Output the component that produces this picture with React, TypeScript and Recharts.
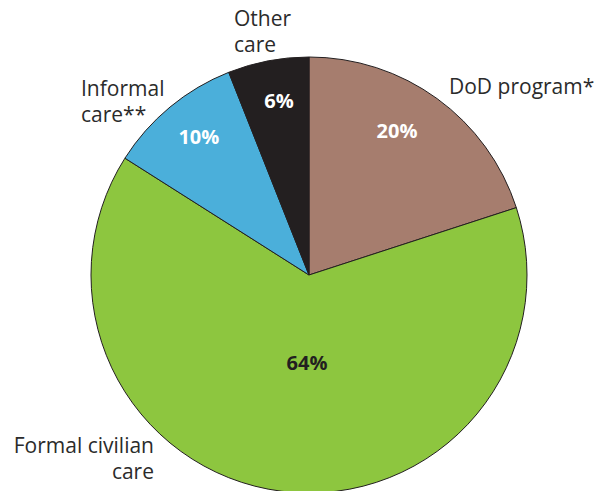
import { PieChart, Pie, Cell } from "recharts";

const categories = ["DoD program*", "Formal civilian care", "Informal care**", "Other care"];
const shares = [20, 64, 10, 6];
const pctLabels = ["20%", "64%", "10%", "6%"];
const nameLines = [["DoD program*"], ["Formal civilian", "care"], ["Informal", "care**"], ["Other", "care"]];

const colors = ["#A67D6E", "#8DC63F", "#4BAFDA", "#231F20"];
const pctColors = ["#ffffff", "#231F20", "#ffffff", "#ffffff"];

// label placement: polar for percentages, offsets for the outside names
const pctPos = [
  { ang: 58.6, frac: 0.775 },
  { ang: 268.7, frac: 0.4 },
  { ang: 128.6, frac: 0.81 },
  { ang: 99.8, frac: 0.81 },
];
const namePos = [
  { dx: 140, dy: -189, anchor: "start" },
  { dx: -155, dy: 170, anchor: "end" },
  { dx: -228, dy: -187, anchor: "start" },
  { dx: -75, dy: -257, anchor: "start" },
];

const data = categories.map((name, i) => ({ name, value: shares[i] }));

const FONT = "'Open Sans', 'Noto Sans', sans-serif";

function renderLabel(props: any) {
  const { cx, cy, outerRadius, index } = props;
  const p = pctPos[index];
  const rad = (p.ang * Math.PI) / 180;
  const px = cx + outerRadius * p.frac * Math.cos(rad);
  const py = cy - outerRadius * p.frac * Math.sin(rad);
  const n = namePos[index];
  const lines = nameLines[index];
  const nx = cx + n.dx;
  const ny = cy + n.dy;
  return (
    <g>
      <text
        x={px}
        y={py}
        textAnchor="middle"
        dominantBaseline="central"
        fill={pctColors[index]}
        fontFamily={FONT}
        fontWeight="bold"
        fontSize={20}
      >
        {pctLabels[index]}
      </text>
      {lines.map((l, j) => (
        <text
          key={j}
          x={nx}
          y={ny + j * 26}
          textAnchor={n.anchor as any}
          dominantBaseline="central"
          fill="#2b2b2b"
          fontFamily={FONT}
          fontSize={21}
        >
          {l}
        </text>
      ))}
    </g>
  );
}

export default function App() {
  return (
    <div style={{ position: "absolute", left: 0, top: 0, width: 597, height: 491, background: "#fff" }}>
      <PieChart width={597} height={491} margin={{ top: 0, right: 0, bottom: 0, left: 0 }}>
        <Pie
          data={data}
          dataKey="value"
          nameKey="name"
          cx={309}
          cy={275}
          outerRadius={218}
          startAngle={90}
          endAngle={-270}
          stroke="#231F20"
          strokeWidth={1}
          label={renderLabel}
          labelLine={false}
          isAnimationActive={false}
        >
          {data.map((d, i) => (
            <Cell key={d.name} fill={colors[i]} />
          ))}
        </Pie>
      </PieChart>
    </div>
  );
}
